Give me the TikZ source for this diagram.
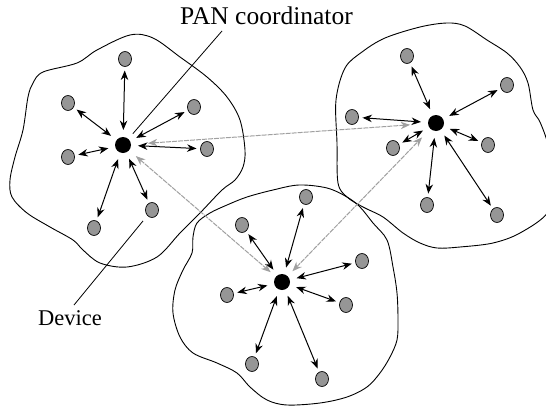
\documentclass[tikz,border=0pt]{standalone}
\usepackage{fontspec}
\setmainfont{Liberation Serif}
\usetikzlibrary{shapes.geometric,arrows.meta}
\definecolor{devgray}{RGB}{150,150,150}
\definecolor{linkgray}{RGB}{160,160,160}
\tikzset{
  dev/.style={ellipse, draw, fill=devgray, line width=0.7pt, minimum width=13pt, minimum height=15pt, inner sep=0pt, outer sep=4pt},
  coordnode/.style={circle, fill=black, minimum size=16pt, inner sep=0pt, outer sep=7pt},
  link/.style={{Stealth[length=9.5pt,width=7.5pt]}-{Stealth[length=9.5pt,width=7.5pt]}, line width=1pt},
  glink/.style={{Stealth[length=9.5pt,width=7.5pt]}-{Stealth[length=9.5pt,width=7.5pt]}, line width=1pt, draw=linkgray, dash pattern=on 5pt off 1pt},
  blob/.style={line width=0.9pt},
  lbl/.style={anchor=base, inner sep=0pt}
}
\begin{document}
\begin{tikzpicture}[x=1pt,y=-1pt]
\useasboundingbox (0,0) rectangle (546,407);
% regions
\draw[blob] plot[smooth cycle, tension=0.55] coordinates {(33,83) (43,72) (77,63) (97,50) (130,35) (153,38) (180,57) (207,77) (227,97) (240,120) (245,150) (243,167) (235,180) (222,190) (200,213) (180,233) (157,257) (127,267) (100,263) (83,250) (73,240) (50,227) (27,213) (12,197) (10,180) (15,157) (23,130) (28,97)};
\draw[blob] plot[smooth cycle, tension=0.55] coordinates {(345,68) (362,52) (385,38) (420,27) (447,23) (465,26) (487,40) (507,53) (520,67) (528,83) (533,110) (540,122) (548,145) (553,180) (548,212) (520,233) (493,243) (460,247) (437,248) (420,243) (403,233) (383,217) (363,207) (347,197) (338,183) (337,143) (336,100)};
\draw[blob] plot[smooth cycle, tension=0.55] coordinates {(197,223) (210,213) (227,205) (247,197) (273,190) (299,185) (327,188) (347,197) (360,207) (373,223) (387,240) (393,267) (397,293) (398,320) (397,340) (390,357) (380,373) (367,387) (347,397) (320,403) (287,405) (267,400) (250,387) (237,373) (217,363) (193,353) (180,337) (173,313) (175,290) (183,270) (192,253) (193,237)};
% cluster A
\node[coordnode] (c1) at (123,145) {};
\node[dev] (a1) at (125,59) {};
\node[dev] (a2) at (68,103) {};
\node[dev] (a3) at (194,107) {};
\node[dev] (a4) at (68,157) {};
\node[dev] (a5) at (207,149) {};
\node[dev] (a6) at (94,228) {};
\node[dev] (a7) at (152,210) {};
% cluster B
\node[coordnode] (c2) at (436,123) {};
\node[dev] (b1) at (407,56) {};
\node[dev] (b2) at (507,85) {};
\node[dev] (b3) at (352,117) {};
\node[dev] (b4) at (393,148) {};
\node[dev] (b5) at (488,145) {};
\node[dev] (b6) at (427,205) {};
\node[dev] (b7) at (497,215) {};
% cluster C
\node[coordnode] (c3) at (282,282) {};
\node[dev] (e1) at (306,197) {};
\node[dev] (e2) at (242,225) {};
\node[dev] (e3) at (362,261) {};
\node[dev] (e4) at (227,295) {};
\node[dev] (e5) at (346,305) {};
\node[dev] (e6) at (252,364) {};
\node[dev] (e7) at (322,379) {};
% links
\foreach \d in {a1,a2,a3,a4,a5,a6,a7} \draw[link] (c1) -- (\d);
\foreach \d in {b1,b2,b3,b4,b5,b6,b7} \draw[link] (c2) -- (\d);
\foreach \d in {e1,e2,e3,e4,e5,e6,e7} \draw[link] (c3) -- (\d);
\draw[glink, shorten <=10pt, shorten >=11pt] (c1) -- (c2);
\draw[glink, shorten <=2pt, shorten >=0pt] (c1) -- (c3);
\draw[glink, shorten <=0pt, shorten >=5pt] (c3) -- (c2);
% labels
\node[lbl, font=\fontsize{25.5}{28}\selectfont] (pan) at (266.5,24) {PAN coordinator};
\node[lbl, font=\fontsize{22.5}{25}\selectfont] (devlbl) at (70,325) {Device};
\coordinate (panl) at (222,31);
\coordinate (devl) at (74,305);
\draw[line width=0.8pt] (panl) -- (c1);
\draw[line width=0.8pt, shorten >=3pt] (devl) -- (a7);
\end{tikzpicture}
\end{document}
